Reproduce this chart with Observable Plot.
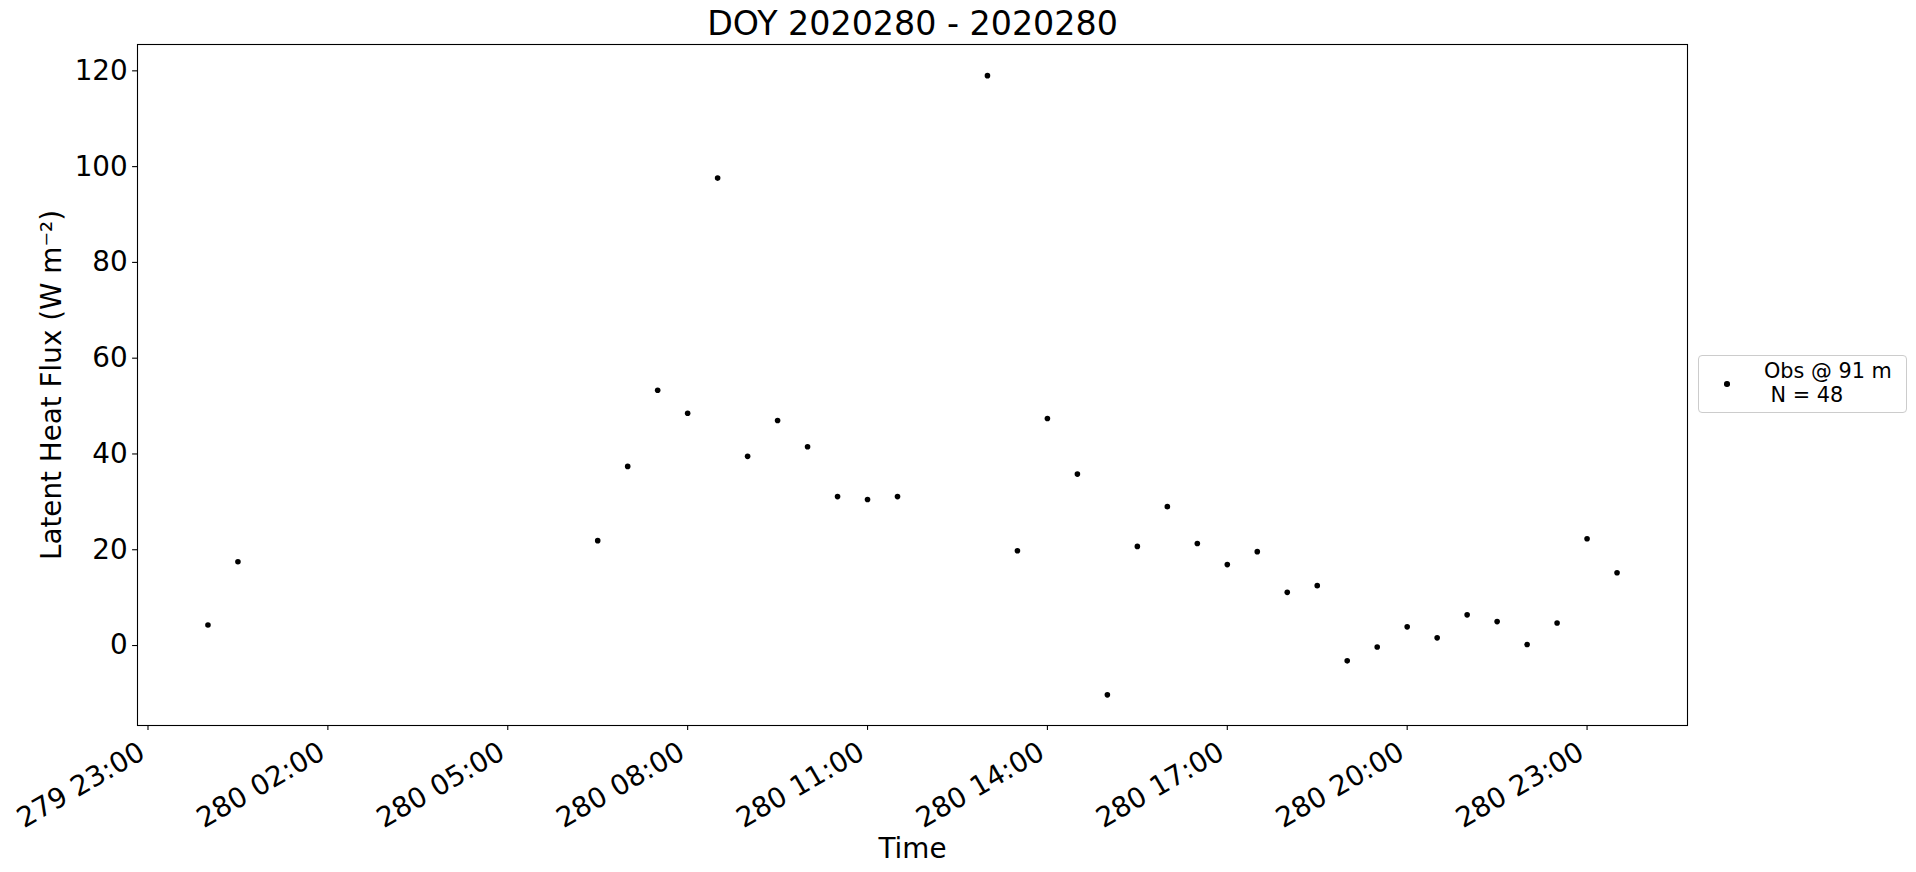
<!DOCTYPE html>
<html>
<head>
<meta charset="utf-8">
<script src="https://cdn.jsdelivr.net/npm/d3@7"></script>
<script src="https://cdn.jsdelivr.net/npm/@observablehq/plot@0.6"></script>
<style>
  body { margin: 0; background: #fff; font-family: "DejaVu Sans", sans-serif; }
  #wrap { position: relative; width: 1916px; height: 872px; overflow: hidden; background: #fff; }
  #legend { position: absolute; left: 1698px; top: 355px; width: 209px; height: 58px; box-sizing: border-box;
            border: 1px solid #cccccc; border-radius: 4px; background: rgba(255,255,255,0.8); }
  #legend .mk { position: absolute; left: 25px; top: 25px; width: 5.6px; height: 5.6px; border-radius: 50%; background: #000; }
  #legend .tx { position: absolute; left: 65px; top: 3px; font-size: 20.8px; line-height: 24px; white-space: pre; color: #000; }
</style>
</head>
<body>
<div id="wrap"><div id="legend"><div class="mk"></div><div class="tx"></div></div></div>
<script>
// ---- data ----
const times = [
  "2020-10-06T00:00Z", "2020-10-06T00:30Z",
  "2020-10-06T06:30Z", "2020-10-06T07:00Z", "2020-10-06T07:30Z", "2020-10-06T08:00Z",
  "2020-10-06T08:30Z", "2020-10-06T09:00Z", "2020-10-06T09:30Z", "2020-10-06T10:00Z",
  "2020-10-06T10:30Z", "2020-10-06T11:00Z", "2020-10-06T11:30Z",
  "2020-10-06T13:00Z", "2020-10-06T13:30Z", "2020-10-06T14:00Z", "2020-10-06T14:30Z",
  "2020-10-06T15:00Z", "2020-10-06T15:30Z", "2020-10-06T16:00Z", "2020-10-06T16:30Z",
  "2020-10-06T17:00Z", "2020-10-06T17:30Z", "2020-10-06T18:00Z", "2020-10-06T18:30Z",
  "2020-10-06T19:00Z", "2020-10-06T19:30Z", "2020-10-06T20:00Z", "2020-10-06T20:30Z",
  "2020-10-06T21:00Z", "2020-10-06T21:30Z", "2020-10-06T22:00Z", "2020-10-06T22:30Z",
  "2020-10-06T23:00Z", "2020-10-06T23:30Z"
];
const flux = [
  4.3, 17.5,
  21.9, 37.4, 53.3, 48.5,
  97.6, 39.5, 47.0, 41.5,
  31.1, 30.5, 31.1,
  119.0, 19.8, 47.4, 35.8,
  -10.3, 20.7, 29.0, 21.3,
  16.9, 19.6, 11.1, 12.5,
  -3.2, -0.3, 3.9, 1.6,
  6.4, 5.0, 0.2, 4.7,
  22.3, 15.2
];
const xTickTimes = [
  "2020-10-05T23:00Z", "2020-10-06T02:00Z", "2020-10-06T05:00Z", "2020-10-06T08:00Z",
  "2020-10-06T11:00Z", "2020-10-06T14:00Z", "2020-10-06T17:00Z", "2020-10-06T20:00Z",
  "2020-10-06T23:00Z"
];
const yTicks = [0, 20, 40, 60, 80, 100, 120];
const titleText = "DOY 2020280 - 2020280";
const xLabelText = "Time";
const yLabelText = "Latent Heat Flux (W m\u207B\u00B2)";
const legendText = "Obs @ 91 m\n N = 48";

// ---- chart ----
const data = times.map((t, i) => ({t: new Date(t), v: flux[i]}));
const xTicks = xTickTimes.map(s => new Date(s));
const fmt = d3.utcFormat("%j %H:%M");

const plot = Plot.plot({
  width: 1916,
  height: 872,
  marginLeft: 137,
  marginRight: 229,
  marginTop: 44,
  marginBottom: 147,
  style: {fontFamily: "DejaVu Sans", fontSize: "27.8px", color: "black", background: "white", overflow: "visible"},
  x: {type: "utc", domain: [new Date("2020-10-05T22:49:30Z"), new Date("2020-10-07T00:40:30Z")]},
  y: {domain: [-16.7, 125.5]},
  marks: [
    Plot.frame({stroke: "black", strokeWidth: 1.1}),
    Plot.axisY(yTicks, {anchor: "left", tickSize: 4.9, tickPadding: 4.9, fontSize: 27.8, strokeWidth: 1.1, label: null}),
    Plot.axisX(xTicks, {anchor: "bottom", tickSize: 4.9, strokeWidth: 1.1, tickFormat: () => "", label: null}),
    Plot.text(xTicks, {x: d => d, frameAnchor: "bottom", text: d => fmt(d), rotate: -30,
                       textAnchor: "end", lineAnchor: "top", dx: -11, dy: 14.8, fontSize: 27.8}),
    Plot.dot(data, {x: "t", y: "v", r: 2.8, fill: "black"}),
    Plot.text([titleText], {frameAnchor: "top", text: d => d, textAnchor: "middle", lineAnchor: "bottom", dy: -9.5, fontSize: 33.3}),
    Plot.text([xLabelText], {frameAnchor: "bottom", text: d => d, textAnchor: "middle", lineAnchor: "bottom", dy: 132, fontSize: 27.8}),
    Plot.text([yLabelText], {frameAnchor: "left", text: d => d, rotate: -90, textAnchor: "middle", lineAnchor: "bottom", dx: -76.5, fontSize: 27.8})
  ]
});
document.getElementById("wrap").prepend(plot);
document.querySelector("#legend .tx").textContent = legendText;
</script>
</body>
</html>
